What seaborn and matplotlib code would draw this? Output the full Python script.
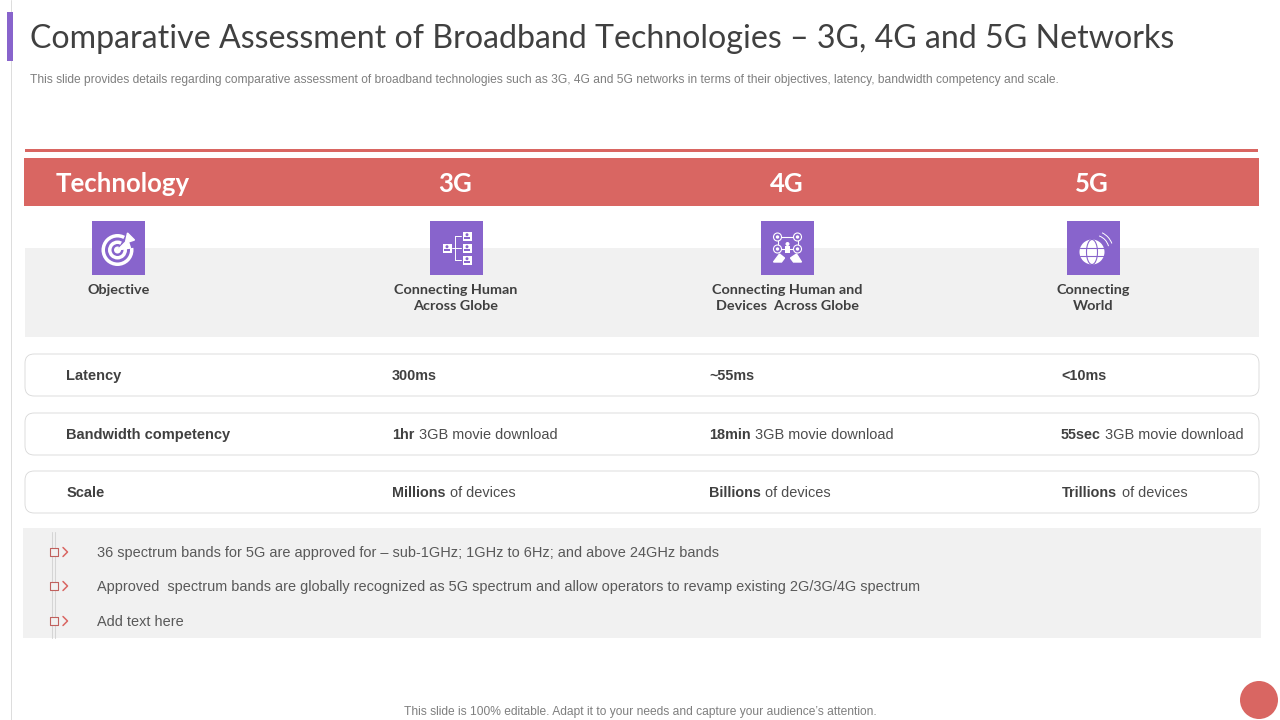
import matplotlib
matplotlib.use("Agg")
import matplotlib.pyplot as plt
import seaborn as sns
from matplotlib.patches import Rectangle, FancyBboxPatch, Circle, Wedge, Arc

TITLE = "Comparative Assessment of Broadband Technologies – 3G, 4G and 5G Networks"
SUBTITLE = ("This slide provides details regarding comparative assessment of broadband technologies such as "
            "3G, 4G and 5G networks in terms of their objectives, latency, bandwidth competency and scale.")
FOOTER = "This slide is 100% editable. Adapt it to your needs and capture your audience’s attention."

headers = ["Technology", "3G", "4G", "5G"]
objectives = ["Objective", "Connecting Human\nAcross Globe", "Connecting Human and\nDevices  Across Globe", "Connecting\nWorld"]
row_names = ["Latency", "Bandwidth competency", "Scale"]
row_bold = [["300ms", "~55ms", "<10ms"],
            ["1hr", "18min", "55sec"],
            ["Millions", "Billions", "Trillions"]]
row_rest = [["", "", ""],
            ["3GB movie download", "3GB movie download", "3GB movie download"],
            ["of devices", "of devices", "of devices"]]
bullets = ["36 spectrum bands for 5G are approved for – sub-1GHz; 1GHz to 6Hz; and above 24GHz bands",
           "Approved  spectrum bands are globally recognized as 5G spectrum and allow operators to revamp existing 2G/3G/4G spectrum",
           "Add text here"]

RED = "#d96662"
PURPLE = "#8864cc"
GREY = "#f1f1f1"
DARK = "#404040"
GEO = ["Lato", "DejaVu Sans"]

sns.set_theme(style="white")
plt.rcParams["font.family"] = ["Liberation Sans", "DejaVu Sans"]

fig = plt.figure(figsize=(12.8, 7.2), dpi=100)
ax = fig.add_axes([0, 0, 1, 1])
ax.set_xlim(0, 1280)
ax.set_ylim(720, 0)
ax.axis("off")


def rect(x0, y0, x1, y1, color, z=1):
    ax.add_patch(Rectangle((x0, y0), x1 - x0, y1 - y0, fc=color, ec="none", zorder=z))


def icon_target(cx, cy):
    gx, gy = cx - 1, cy + 2
    for r, c in [(16, "white"), (12.5, PURPLE), (9.5, "white"), (6, PURPLE), (3.5, "white")]:
        ax.add_patch(Circle((gx, gy), r, fc=c, ec="none", zorder=4))
    ax.add_patch(Wedge((gx, gy), 18, -62, -8, fc=PURPLE, ec="none", zorder=4))
    ax.fill([gx, gx + 8, gx + 10, gx + 17, gx + 11, gx + 13],
            [gy, gy - 8, gy - 17, gy - 10, gy - 8, gy - 2], color="white", zorder=5)


def person(cx, cy, s=4.5):
    rect(cx - s, cy - s, cx + s, cy + s, "white", 4)
    ax.add_patch(Circle((cx, cy - 1.3), s * 0.33, fc=PURPLE, ec="none", zorder=5))
    rect(cx - s * 0.6, cy + 0.8, cx + s * 0.6, cy + s * 0.65, PURPLE, 5)


def icon_tree(cx, cy):
    person(cx - 9, cy, 4.5)
    for dy in (-12, 0, 12):
        person(cx + 11, cy + dy, 4.5)
        ax.plot([cx - 1, cx + 5], [cy + dy, cy + dy], color="white", lw=0.7, zorder=4)
    ax.plot([cx - 4, cx - 1], [cy, cy], color="white", lw=0.7, zorder=4)
    ax.plot([cx - 1, cx - 1], [cy - 12, cy + 12], color="white", lw=0.7, zorder=4)


def icon_network(cx, cy):
    pts = [(cx - 10, cy - 11), (cx + 10, cy - 11), (cx - 10, cy + 1), (cx + 10, cy + 1)]
    ax.plot([pts[0][0], pts[1][0], pts[3][0]], [pts[0][1], pts[1][1], pts[3][1]], color="white", lw=0.8, zorder=4)
    ax.plot([pts[0][0], pts[2][0], pts[3][0]], [pts[0][1], pts[2][1], pts[3][1]], color="white", lw=0.8, zorder=4)
    for p in pts:
        ax.add_patch(Circle(p, 4, fc=PURPLE, ec="white", lw=0.8, zorder=5))
        ax.add_patch(Circle(p, 1.7, fc="white", ec="none", zorder=6))
    ax.add_patch(Circle((cx, cy - 4), 2, fc="white", ec="none", zorder=5))
    rect(cx - 2.2, cy - 2, cx + 2.2, cy + 5, "white", 5)
    ax.fill([cx - 14, cx - 8, cx - 3, cx - 6], [cy + 14, cy + 6, cy + 10, cy + 14], color="white", zorder=5)
    ax.fill([cx + 14, cx + 9, cx + 3, cx + 6], [cy + 14, cy + 6, cy + 10, cy + 14], color="white", zorder=5)


def icon_globe(cx, cy):
    gx, gy = cx - 1, cy + 4
    ax.add_patch(Circle((gx, gy), 12.5, fc="white", ec="none", zorder=4))
    ax.plot([gx - 12.5, gx + 12.5], [gy - 4, gy - 4], color=PURPLE, lw=0.8, zorder=5)
    ax.plot([gx - 12.5, gx + 12.5], [gy + 4, gy + 4], color=PURPLE, lw=0.8, zorder=5)
    ax.add_patch(Arc((gx, gy), 11, 25, fc="none", ec=PURPLE, lw=0.8, zorder=5))
    ax.add_patch(Arc((cx + 1, cy + 2), 30, 30, theta1=-70, theta2=-15, ec="white", lw=0.7, zorder=5))
    ax.add_patch(Arc((cx + 1, cy + 2), 38, 38, theta1=-65, theta2=-20, ec="white", lw=0.7, zorder=5))


# page furniture
ax.plot([11, 11], [0, 720], color="#dcdcdc", lw=0.7, zorder=0)
rect(7, 12, 13, 61, PURPLE, 2)
ax.text(30, 39.5, TITLE, fontsize=23.1, family=GEO, color=DARK, va="center", ha="left")
ax.text(30, 80.5, SUBTITLE, fontsize=8.65, color="#7f7f7f", va="center", ha="left")

# header band
rect(25, 149, 1258, 152, RED)
rect(24, 158, 1259, 206, RED)
header_x = [123, 455, 787, 1092]
for x, h in zip(header_x, headers):
    ax.text(x, 184, h, fontsize=18.5, weight="bold", family=GEO, color="white", ha="center", va="center")

# objective row
rect(25, 248, 1259, 337, GREY)
icon_x = [118.5, 456, 787.5, 1093]
obj_x = [118.5, 455.5, 787.5, 1093]
for x, draw in zip(icon_x, [icon_target, icon_tree, icon_network, icon_globe]):
    rect(x - 26.5, 221, x + 26.5, 275, PURPLE, 3)
    draw(x, 248)
for x, label in zip(obj_x, objectives):
    for i, part in enumerate(label.split("\n")):
        ax.text(x, 289.5 + 16 * i, part, fontsize=10.4, weight="bold", family=GEO,
                color=DARK, ha="center", va="center")

# metric rows
row_y = [375, 434, 492]
name_x = [66, 66, 67]
col_x = [[392, 709, 1061], [392, 709, 1061], [392, 709, 1062]]
renderer = fig.canvas.get_renderer()
for i, y in enumerate(row_y):
    ax.add_patch(FancyBboxPatch((25, y - 21), 1234, 42, boxstyle="round,pad=0,rounding_size=9",
                                fc="white", ec="#d4d4d4", lw=0.55, zorder=1))
    ax.text(name_x[i], y + 1, row_names[i], fontsize=10.5, weight="bold", color=DARK, ha="left", va="center")
    for x, b, r in zip(col_x[i], row_bold[i], row_rest[i]):
        t = ax.text(x, y + 1, b, fontsize=10.4, weight="bold", color=DARK, ha="left", va="center")
        if r:
            end = ax.transData.inverted().transform(t.get_window_extent(renderer))[1][0]
            ax.text(end + 4.5, y + 1, r, fontsize=10.45, color="#4d4d4d", ha="left", va="center")

# bullet panel
rect(23, 528, 1261, 638, GREY)
ax.plot([51.5, 51.5], [532, 638], color="#d5d5d5", lw=0.75, zorder=2)
ax.plot([55, 55], [532, 638], color="#d5d5d5", lw=0.75, zorder=2)
bullet_y = [552, 586, 621]
sns.scatterplot(x=[54] * 3, y=bullet_y, marker="s", s=30, color=GREY, edgecolor="#c0605d", linewidth=0.8,
                ax=ax, zorder=3, legend=False)
for y, text in zip(bullet_y, bullets):
    ax.plot([63, 67.5, 63], [y - 4.5, y, y + 4.5], color=RED, lw=1.1, zorder=3)
    ax.text(97, y + 1, text, fontsize=10.43, color="#595959", ha="left", va="center")

# footer
ax.text(640, 712, FOOTER, fontsize=8.63, color="#7f7f7f", ha="center", va="center")
ax.add_patch(Circle((1259, 700), 19, fc=RED, ec="none", zorder=2))
ax.set_xlim(0, 1280)
ax.set_ylim(720, 0)

fig.savefig("out.png", dpi=100)
